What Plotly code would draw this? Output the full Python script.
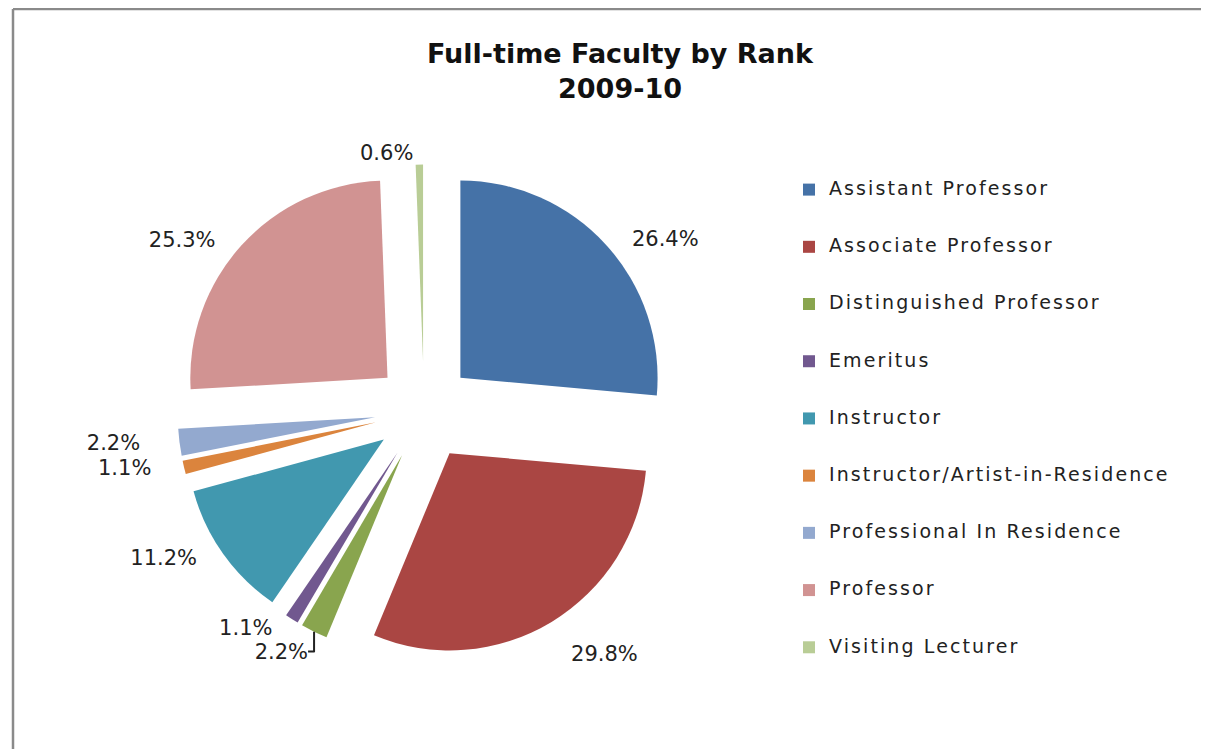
import plotly.graph_objects as go

categories = [
    "Assistant Professor",
    "Associate Professor",
    "Distinguished Professor",
    "Emeritus",
    "Instructor",
    "Instructor/Artist-in-Residence",
    "Professional In Residence",
    "Professor",
    "Visiting Lecturer",
]
percent_values = [26.4, 29.8, 2.2, 1.1, 11.2, 1.1, 2.2, 25.3, 0.6]
slice_colors = [
    "#4572A7", "#AA4643", "#89A54E", "#71588F", "#4198AF",
    "#DB843D", "#93A9CF", "#D19392", "#B9CD96",
]

W, H = 1209, 749
NB = "\u00a0"

# label padding (non-breaking spaces / blank line) to place the outside labels like Excel's
lead_pad = [3, 1, 0, 0, 0, 0, 0, 0, 0]
trail_pad = [0, 0, 0, 2, 3, 4, 5, 3, 0]
line_above = [False, True, False, False, False, False, False, False, False]
text_templates = [
    (NB + "<br>" if la else "") + NB * lp + "%{value:.1f}%" + NB * tp
    for lp, tp, la in zip(lead_pad, trail_pad, line_above)
]

# legend labels: text in a styled span, padded with blank lines to get Excel-like row spacing
legend_labels = [
    " <br><span style='font-size:19px;letter-spacing:2.1px'>%s</span><br> " % c
    for c in categories
]

cx, cy, size = 416, 403, 493

fig = go.Figure(
    go.Pie(
        labels=legend_labels,
        values=percent_values,
        sort=False,
        direction="clockwise",
        rotation=0,
        pull=[0.25] * len(percent_values),
        marker=dict(colors=slice_colors, line=dict(width=0)),
        textposition="outside",
        texttemplate=text_templates,
        textfont=dict(family="DejaVu Sans", size=21, color="#222222"),
        domain=dict(
            x=[(cx - size / 2) / W, (cx + size / 2) / W],
            y=[1 - (cy + size / 2) / H, 1 - (cy - size / 2) / H],
        ),
        hovertemplate="%{value:.1f}%<extra></extra>",
    )
)

fig.update_layout(
    width=W,
    height=H,
    margin=dict(l=0, r=0, t=0, b=0, autoexpand=False),
    paper_bgcolor="white",
    plot_bgcolor="white",
    font=dict(family="DejaVu Sans", color="#222222"),
    title=dict(
        text="Full-time Faculty by Rank<br>2009-10",
        x=612 / W,
        xanchor="center",
        xref="container",
        y=1 - 55 / H,
        yanchor="top",
        yref="container",
        font=dict(family="DejaVu Sans", size=27, color="#111111", weight="bold"),
    ),
    showlegend=True,
    legend=dict(
        x=781 / W,
        xanchor="left",
        xref="container",
        y=1 - 148 / H,
        yanchor="top",
        yref="container",
        maxheight=1.0,
        font=dict(family="DejaVu Sans", size=13.9, color="#222222"),
        bgcolor="rgba(0,0,0,0)",
        valign="middle",
        traceorder="normal",
    ),
    shapes=[
        dict(type="line", xref="paper", yref="paper",
             x0=5 / W, x1=1.0, y0=1 - 1 / H, y1=1 - 1 / H,
             line=dict(color="#8A8A8A", width=2.5)),
        dict(type="line", xref="paper", yref="paper",
             x0=5 / W, x1=5 / W, y0=0, y1=1 - 1 / H,
             line=dict(color="#8A8A8A", width=2.5)),
    ],
)

fig.write_html("out.html")
